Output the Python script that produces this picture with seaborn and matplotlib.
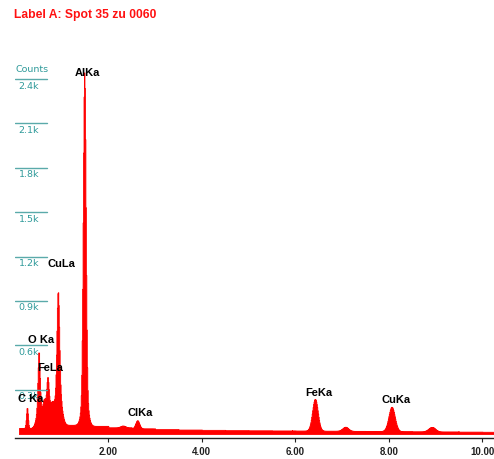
import numpy as np
import pandas as pd
import matplotlib
matplotlib.use("Agg")
import matplotlib.pyplot as plt
import seaborn as sns

# ---- spectrum description (energies in keV, intensities in counts) ----
line_names = ["C Ka", "O Ka", "FeLa", "CuLa", "AlKa", "ClKa", "FeKa", "CuKa"]
line_energy = [0.26, 0.51, 0.70, 0.92, 1.486, 2.62, 6.42, 8.06]
line_height = [140, 360, 170, 640, 2135, 55, 215, 165]
line_sigma = [0.018, 0.022, 0.022, 0.026, 0.028, 0.040, 0.058, 0.065]

# broader shoulders and weaker / unlabelled contributions
minor_energy = [0.51, 0.62, 0.70, 0.80, 0.93, 1.49, 7.07, 8.92, 2.31]
minor_height = [130, 110, 140, 110, 260, 250, 28, 30, 12]
minor_sigma = [0.055, 0.030, 0.050, 0.040, 0.060, 0.060, 0.060, 0.070, 0.050]

# continuum level in 0.5 keV bands starting at 0 keV
background = [40, 70, 62, 55, 45, 38, 33, 30, 28, 26, 25, 24, 23, 22, 21,
              20, 19, 18, 17, 16, 15]

label_x = [0.06, 0.29, 0.49, 0.69, 1.29, 2.42, 6.21, 7.85]
label_y = [243, 642, 453, 1157, 2448, 149, 284, 237]

ytick_values = [300, 600, 900, 1200, 1500, 1800, 2100, 2400]
ytick_labels = ["0.3k", "0.6k", "0.9k", "1.2k", "1.5k", "1.8k", "2.1k", "2.4k"]
xtick_values = [2, 4, 6, 8, 10]
xtick_labels = ["2.00", "4.00", "6.00", "8.00", "10.00"]

# ---- build channel counts ----
width = 0.01
e_start, e_stop = 0.09, 10.30
n_chan = int(round((e_stop - e_start) / width))
centers = e_start + width * (np.arange(n_chan) + 0.5)
band = np.minimum((centers / 0.5).astype(int), len(background) - 1)
counts = np.array(background, dtype=float)[band]
for e, h, s in zip(line_energy + minor_energy, line_height + minor_height,
                   line_sigma + minor_sigma):
    counts += h * np.exp(-0.5 * ((centers - e) / s) ** 2)
spectrum = pd.DataFrame({"energy": centers, "counts": counts})

sns.set_style("white")
plt.rcParams["font.family"] = ["Liberation Sans", "DejaVu Sans"]

W, H = 494, 460
fig = plt.figure(figsize=(W / 100, H / 100), dpi=100)
x0_px, px_per_kev = 14.8, 46.75
zero_px, px_per_count = 435, 0.1479
ax = fig.add_axes([x0_px / W, (H - 439) / H, (W - x0_px) / W, 439 / H])

sns.histplot(data=spectrum, x="energy", weights="counts", binwidth=width,
             binrange=(e_start, e_start + n_chan * width),
             element="step", fill=True, color="#ff0000", alpha=1.0,
             linewidth=0.6, ax=ax)
ax.set_xlim(0, (W - x0_px) / px_per_kev)
ax.set_ylim(-(439 - zero_px) / px_per_count, zero_px / px_per_count)

teal_text = "#2f9a9a"
teal_line = "#5aaaaa"
line_end = (47 - x0_px) / px_per_kev
for v, lab in zip(ytick_values, ytick_labels):
    ax.plot([0, line_end], [v, v], color=teal_line, lw=1.0, zorder=1)
    ax.text((29 - x0_px) / px_per_kev, v - 6 / px_per_count, lab,
            ha="center", va="center", fontsize=6.8, color=teal_text,
            family=["Liberation Sans Narrow", "DejaVu Sans"])
ax.text((32 - x0_px) / px_per_kev, (zero_px - 69.7) / px_per_count, "Counts",
        ha="center", va="center", fontsize=6.8, color=teal_text,
        family=["Liberation Sans Narrow", "DejaVu Sans"])

for name, lx, ly in zip(line_names, label_x, label_y):
    ax.text(lx, ly, name, ha="left", va="center", fontsize=8,
            fontweight="bold", color="black", zorder=5)

ax.set_xticks(xtick_values)
ax.set_xticklabels(xtick_labels, fontsize=7, fontweight="bold",
                   color="#202020")
ax.set_yticks([])
ax.tick_params(axis="x", direction="out", length=3, width=0.8,
               color="#222222", pad=2.5, bottom=True)
for side in ["left", "right", "top"]:
    ax.spines[side].set_visible(False)
ax.spines["bottom"].set_color("#222222")
ax.spines["bottom"].set_linewidth(1.0)
ax.set_xlabel("")
ax.set_ylabel("")
ax.patch.set_alpha(0)

fig.text(14 / W, 1 - 15 / H, "Label A: Spot 35 zu 0060", ha="left",
         va="center", fontsize=8.7, fontweight="bold", color="#ff1010")

fig.savefig("out.png", dpi=100)
